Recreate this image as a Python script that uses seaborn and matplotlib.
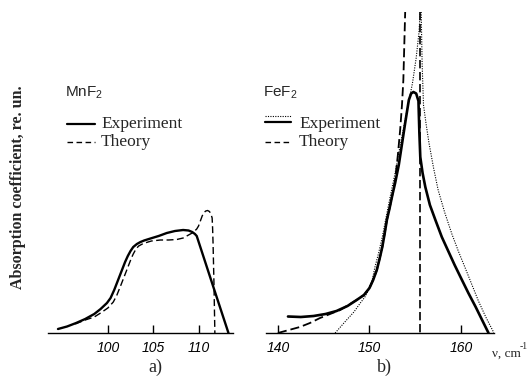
import matplotlib
matplotlib.use("Agg")
import matplotlib.pyplot as plt
from matplotlib.lines import Line2D
import seaborn as sns
import pandas as pd

sns.set_style("white")
plt.rcParams["font.family"] = ["Liberation Serif", "DejaVu Serif"]
plt.rcParams["mathtext.fontset"] = "custom"
plt.rcParams["mathtext.rm"] = "Liberation Sans"
plt.rcParams["mathtext.it"] = "Liberation Sans:italic"

# ---- data (panel a: MnF2) ----
a_exp_x = [94.5, 95.5, 96.5, 97.5, 98.5, 99.2, 99.9, 100.3, 100.7, 101.0, 101.3, 101.6,
           101.9, 102.2, 102.5, 102.8, 103.2, 103.6, 104.0, 104.7, 105.6, 106.5, 107.4,
           108.3, 108.9, 109.3, 109.6, 109.8, 111.6, 113.3]
a_exp_y = [4, 6.5, 10, 14, 19, 24, 30, 35, 43, 50, 57, 64,
           71, 77, 82, 86, 89, 91, 92.5, 94.5, 97, 100, 102,
           103, 102.5, 101, 99, 97, 47, 0]
a_th_x = [96.4, 97.5, 98.5, 99.2, 100.0, 100.6, 101.0, 101.4, 101.7, 102.0, 102.3, 102.6,
          102.8, 103.1, 103.4, 103.9, 104.8, 105.8, 106.7, 107.6, 108.3, 108.9, 109.4,
          109.8, 110.0, 110.2, 110.4, 110.6, 110.8, 111.0, 111.2, 111.35, 111.5, 111.55,
          111.6, 111.7, 111.8]
a_th_y = [9, 13, 16, 20, 25, 31, 38, 47, 54, 61, 68, 75,
          79, 84, 87, 89.5, 92, 93, 93, 93.5, 95, 98, 100.5,
          104, 107, 112, 117, 120.5, 122, 122.5, 121.5, 119.5, 115, 105,
          90, 50, 0]

# ---- data (panel b: FeF2) ----
b_exp_x = [141.1, 142.5, 143.9, 145.2, 146.4, 147.6, 148.6, 149.4, 150.0, 150.4, 150.8, 151.1,
           151.4, 151.65, 151.9, 152.2, 152.5, 152.8, 153.2, 153.5, 153.9, 154.3, 154.55,
           154.8, 155.1, 155.35, 155.45, 155.55, 155.8, 156.1, 156.6, 157.2, 157.9, 158.6,
           159.3, 160.1, 160.8, 161.6, 162.3, 163.0]
b_exp_y = [16.5, 16, 17, 19, 22, 27, 33, 38, 45, 53, 63, 74,
           86, 99, 113, 125, 138, 150, 168, 186, 210, 233, 239.5,
           241, 239.5, 232, 200, 176, 160, 146, 128, 113, 96, 82,
           68, 53, 40, 26, 13, 0]
b_dot_left_x = [146.25, 147.5, 148.3, 149.0, 149.5, 149.9, 150.3, 150.6, 151.0, 151.4, 151.8,
                152.3, 152.8, 153.3, 154.0, 154.7, 155.1, 155.4, 155.55]
b_dot_left_y = [0, 13, 21, 30, 36, 43, 53, 66, 80, 96, 115,
                138, 160, 185, 218, 250, 275, 300, 321]
b_dot_right_x = [155.65, 155.75, 155.9, 156.2, 156.5, 157.0, 157.5, 158.2, 159.0, 159.7,
                 160.5, 161.2, 161.9, 162.7, 163.6]
b_dot_right_y = [321, 270, 228, 208, 190, 165, 143, 121, 99, 82,
                 64, 48, 32, 16, 0]
b_th_x = [140.0, 141.2, 142.4, 143.5, 144.6, 145.7, 146.8, 147.7, 148.6, 149.4, 150.0, 150.4,
          150.8, 151.1, 151.4, 151.65, 151.9, 152.2, 152.5, 152.8, 153.1, 153.35, 153.55,
          153.7, 153.9]
b_th_y = [0, 3, 6, 10, 15, 19, 23, 28, 33, 38, 45, 53,
          63, 74, 86, 99, 113, 125, 138, 153, 178, 203, 228,
          253, 321]
b_th_vert_x = [155.5, 155.5]
b_th_vert_y = [321, 0]

a_ticks = [100, 105, 110]
b_ticks = [140, 150, 160]

W, H = 528, 383
fig = plt.figure(figsize=(W / 100, H / 100), dpi=100)

def fx(px):
    return px / W

def fy(py):
    return 1 - py / H

base = 333
ax_a = fig.add_axes([fx(48), fy(base), fx(233) - fx(48), base / H])
ax_b = fig.add_axes([fx(266), fy(base), fx(494) - fx(266), base / H])

def line(ax, xs, ys, lw, ls):
    df = pd.DataFrame({"x": xs, "y": ys})
    sns.lineplot(data=df, x="x", y="y", ax=ax, color="black", lw=lw, linestyle=ls,
                 sort=False, estimator=None)

line(ax_a, a_th_x, a_th_y, 1.0, (0, (5, 2.5)))
line(ax_a, a_exp_x, a_exp_y, 1.7, "-")

line(ax_b, b_dot_left_x, b_dot_left_y, 0.8, (0, (1, 1.2)))
line(ax_b, b_dot_right_x, b_dot_right_y, 0.8, (0, (1, 1.2)))
line(ax_b, b_th_x, b_th_y, 1.3, (0, (5, 2.2)))
line(ax_b, b_th_vert_x, b_th_vert_y, 1.2, (0, (5, 2.2)))
line(ax_b, b_exp_x, b_exp_y, 1.9, "-")

tickfont = {"family": ["Liberation Sans", "DejaVu Sans"], "style": "italic", "size": 10}
for ax, lim, ticks in [(ax_a, (93.4, 113.8), a_ticks), (ax_b, (138.7, 163.6), b_ticks)]:
    ax.set_xlim(*lim)
    ax.set_ylim(0, base)
    ax.set_xticks(ticks)
    ax.set_xticklabels([str(t) for t in ticks], fontdict=tickfont)
    ax.set_yticks([])
    ax.set_xlabel("")
    ax.set_ylabel("")
    for s in ["top", "right", "left"]:
        ax.spines[s].set_visible(False)
    ax.spines["bottom"].set_linewidth(1.0)
    ax.spines["bottom"].set_color("black")
    ax.tick_params(axis="x", direction="in", length=6, width=1.0, pad=6, colors="black",
                   bottom=True)
    ax.patch.set_alpha(0)

# y label
fig.text(fx(18), fy(187), "Absorption coefficient, re. un.", rotation=90, ha="center",
         va="center", fontsize=11.5, fontweight="bold", family=["Liberation Serif"])

# compound labels
sans = ["Liberation Sans", "DejaVu Sans"]
fig.text(fx(65), fy(93), "MnF$_2$", ha="left", va="center", fontsize=11, family=sans)
fig.text(fx(263), fy(93), "FeF$_2$", ha="left", va="center", fontsize=11, family=sans)

# legend a
fig.add_artist(Line2D([fx(67), fx(95)], [fy(124), fy(124)], color="black", lw=1.6))
fig.add_artist(Line2D([fx(67), fx(95)], [fy(142), fy(142)], color="black", lw=1.0,
                      linestyle=(0, (4, 2.5))))
fig.text(fx(101), fy(124), "Experiment", ha="left", va="center", fontsize=12.5)
fig.text(fx(101), fy(142), "Theory", ha="left", va="center", fontsize=12.5)

# legend b
fig.add_artist(Line2D([fx(265), fx(291)], [fy(116), fy(116)], color="black", lw=0.8,
                      linestyle=(0, (1, 1.2))))
fig.add_artist(Line2D([fx(265), fx(291)], [fy(122), fy(122)], color="black", lw=1.6))
fig.add_artist(Line2D([fx(265), fx(291)], [fy(142), fy(142)], color="black", lw=1.0,
                      linestyle=(0, (4, 2.5))))
fig.text(fx(299), fy(124), "Experiment", ha="left", va="center", fontsize=12.5)
fig.text(fx(299), fy(142), "Theory", ha="left", va="center", fontsize=12.5)

# panel letters
fig.text(fx(155), fy(367), "a)", ha="center", va="center", fontsize=13)
fig.text(fx(384), fy(367), "b)", ha="center", va="center", fontsize=13)

# axis unit
fig.text(fx(492), fy(357), "ν, cm", ha="left", va="baseline", fontsize=9.5)
fig.text(fx(520), fy(349), "-1", ha="left", va="baseline", fontsize=7)

fig.savefig("out.png", dpi=100)
